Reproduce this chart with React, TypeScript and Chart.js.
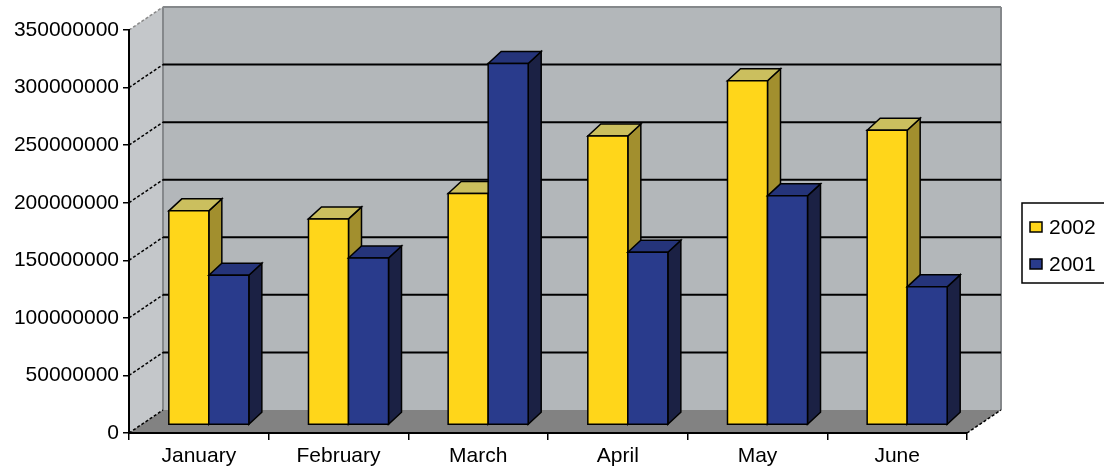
import { useEffect, useRef } from "react";
import { Chart, registerables } from "chart.js";

Chart.register(...registerables);

const months = ["January", "February", "March", "April", "May", "June"];
const seriesLabels = ["2002", "2001"];
const values2002 = [186000000, 179000000, 201000000, 251000000, 299000000, 256000000];
const values2001 = [130000000, 145000000, 314000000, 150000000, 199000000, 120000000];
const yMax = 350000000;
const yStep = 50000000;

const FONT = '"Liberation Sans", Arial, sans-serif';
const WALL = { dx: 34, dy: -23 };
const BAR_OFF = { dx: 10, dy: -8 };
const BAR_DEPTH = { dx: 13, dy: -12 };
const palette = [
  { front: "#ffd61a", top: "#cbbf5e", side: "#a28f2e" },
  { front: "#293b8c", top: "#25347a", side: "#1b2144" },
];

function poly(ctx: CanvasRenderingContext2D, pts: number[][], fill?: string, stroke?: string, lw = 1.5) {
  ctx.beginPath();
  pts.forEach((p, i) => (i ? ctx.lineTo(p[0], p[1]) : ctx.moveTo(p[0], p[1])));
  ctx.closePath();
  if (fill) {
    ctx.fillStyle = fill;
    ctx.fill();
  }
  if (stroke) {
    ctx.strokeStyle = stroke;
    ctx.lineWidth = lw;
    ctx.lineJoin = "miter";
    ctx.stroke();
  }
}

function line(ctx: CanvasRenderingContext2D, x1: number, y1: number, x2: number, y2: number, color: string, lw: number, dash: number[] = []) {
  ctx.save();
  ctx.beginPath();
  ctx.setLineDash(dash);
  ctx.moveTo(x1, y1);
  ctx.lineTo(x2, y2);
  ctx.strokeStyle = color;
  ctx.lineWidth = lw;
  ctx.stroke();
  ctx.restore();
}

const threeD = {
  id: "threeD",
  beforeDraw(chart: any) {
    const { ctx, chartArea: a } = chart;
    const y = chart.scales.y;
    const L = a.left, R = a.right;
    const T = y.getPixelForValue(yMax), B = y.getPixelForValue(0);
    const { dx, dy } = WALL;
    ctx.save();
    // left wall
    poly(ctx, [[L, T], [L + dx, T + dy], [L + dx, B + dy], [L, B]], "#c4c7ca");
    // back wall
    poly(ctx, [[L + dx, T + dy], [R + dx, T + dy], [R + dx, B + dy], [L + dx, B + dy]], "#b3b7ba");
    // floor
    poly(ctx, [[L, B], [R, B], [R + dx, B + dy], [L + dx, B + dy]], "#828282");
    // wall edges
    line(ctx, L + dx, T + dy, R + dx, T + dy, "#85888b", 2);
    line(ctx, L + dx, T + dy, L + dx, B + dy, "#85888b", 2);
    line(ctx, R + dx, T + dy, R + dx, B + dy, "#85888b", 2);
    // grid lines
    for (let v = yStep; v < yMax; v += yStep) {
      const yp = y.getPixelForValue(v);
      line(ctx, L + dx, yp + dy, R + dx, yp + dy, "#000", 2);
      line(ctx, L, yp, L + dx, yp + dy, "#000", 1.5, [3, 2]);
    }
    line(ctx, L, T, L + dx, T + dy, "#8a8a8a", 1.5, [3, 2]);
    line(ctx, L, B, L + dx, B + dy, "#000", 1.5, [3, 2]);
    line(ctx, R, B, R + dx, B + dy, "#000", 1.5, [3, 2]);
    ctx.restore();
  },
  beforeDatasetsDraw() {
    return false;
  },
  afterDraw(chart: any) {
    const { ctx } = chart;
    ctx.save();
    const n = chart.data.labels.length;
    for (let j = 0; j < n; j++) {
      chart.data.datasets.forEach((ds: any, i: number) => {
        const el = chart.getDatasetMeta(i).data[j];
        const { x, y, base, width } = el.getProps(["x", "y", "base", "width"], true);
        const c = palette[i];
        const x0 = x - width / 2 + BAR_OFF.dx, x1 = x + width / 2 + BAR_OFF.dx;
        const yt = y + BAR_OFF.dy, yb = base + BAR_OFF.dy;
        const { dx, dy } = BAR_DEPTH;
        poly(ctx, [[x1, yt], [x1 + dx, yt + dy], [x1 + dx, yb + dy], [x1, yb]], c.side, "#000");
        poly(ctx, [[x0, yt], [x0 + dx, yt + dy], [x1 + dx, yt + dy], [x1, yt]], c.top, "#000");
        poly(ctx, [[x0, yt], [x1, yt], [x1, yb], [x0, yb]], c.front, "#000");
      });
    }
    // legend
    const lx = 1022, ly = 203;
    ctx.fillStyle = "#fff";
    ctx.fillRect(lx, ly, 100, 80);
    ctx.strokeStyle = "#000";
    ctx.lineWidth = 1.5;
    ctx.strokeRect(lx, ly, 100, 80);
    ctx.font = `21px ${FONT}`;
    ctx.textBaseline = "middle";
    chart.data.datasets.forEach((ds: any, i: number) => {
      const cy = 227 + i * 37;
      ctx.fillStyle = palette[i].front;
      ctx.fillRect(lx + 8, cy - 5, 12, 10);
      ctx.strokeStyle = "#000";
      ctx.lineWidth = 1.5;
      ctx.strokeRect(lx + 8, cy - 5, 12, 10);
      ctx.fillStyle = "#000";
      ctx.textAlign = "left";
      ctx.fillText(ds.label, lx + 27, cy + 1);
    });
    ctx.restore();
  },
};

export default function App() {
  const ref = useRef<HTMLCanvasElement>(null);
  useEffect(() => {
    document.body.style.margin = "0";
    const chart = new Chart(ref.current as HTMLCanvasElement, {
      type: "bar",
      data: {
        labels: months,
        datasets: [
          { label: seriesLabels[0], data: values2002, backgroundColor: palette[0].front, categoryPercentage: 0.573, barPercentage: 1 },
          { label: seriesLabels[1], data: values2001, backgroundColor: palette[1].front, categoryPercentage: 0.573, barPercentage: 1 },
        ],
      },
      options: {
        responsive: false,
        animation: false,
        devicePixelRatio: 1,
        layout: { padding: { top: 30, right: 137, left: 0, bottom: 0 } },
        plugins: { legend: { display: false }, tooltip: { enabled: false } },
        scales: {
          x: {
            offset: true,
            grid: { offset: true, drawOnChartArea: false, drawTicks: true, tickLength: 7, color: "#000", lineWidth: 1.5 },
            border: { color: "#000", width: 2 },
            ticks: { color: "#000", font: { family: FONT, size: 21 }, padding: 4 },
            afterFit: (s: any) => {
              s.height = 39;
            },
          },
          y: {
            min: 0,
            max: yMax,
            grid: { drawOnChartArea: false, drawTicks: true, tickLength: 6, color: "#000", lineWidth: 1.5 },
            border: { color: "#000", width: 2 },
            ticks: {
              stepSize: yStep,
              color: "#000",
              font: { family: FONT, size: 21 },
              padding: 4,
              callback: (v: any) => String(v),
            },
            afterFit: (s: any) => {
              s.width = 129;
            },
          },
        },
      },
      plugins: [threeD],
    } as any);
    return () => chart.destroy();
  }, []);
  return <canvas ref={ref} width={1104} height={472} style={{ display: "block" }} />;
}
